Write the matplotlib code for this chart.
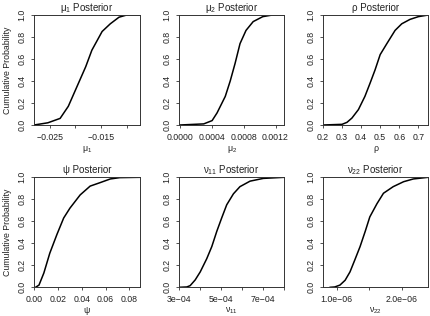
import matplotlib
matplotlib.use("Agg")
import matplotlib.pyplot as plt

plt.rcParams["font.family"] = ["Liberation Sans", "DejaVu Sans"]
plt.rcParams["mathtext.fontset"] = "custom"
plt.rcParams["mathtext.rm"] = "Liberation Sans"
plt.rcParams["mathtext.it"] = "Liberation Sans"
plt.rcParams["axes.unicode_minus"] = True

mu1_x = [-0.0281, -0.0254, -0.0230, -0.0214, -0.0197, -0.0180, -0.0168,
         -0.0148, -0.0132, -0.0115, -0.0100, -0.0075]
mu1_p = [0.0, 0.02, 0.06, 0.17, 0.35, 0.53, 0.68, 0.85, 0.92, 0.98, 1.0, 1.0]

mu2_x = [0.0, 0.00030, 0.000405, 0.000467, 0.00057, 0.000632, 0.000693,
         0.000755, 0.00083, 0.00092, 0.00104, 0.00116, 0.00131]
mu2_p = [0.0, 0.01, 0.04, 0.11, 0.26, 0.40, 0.56, 0.74, 0.86, 0.94, 0.985,
         1.0, 1.0]

rho_x = [0.20, 0.30, 0.326, 0.352, 0.386, 0.42, 0.447, 0.473, 0.50, 0.535,
         0.578, 0.613, 0.656, 0.70, 0.752]
rho_p = [0.0, 0.006, 0.024, 0.063, 0.14, 0.26, 0.38, 0.50, 0.64, 0.74, 0.86,
         0.92, 0.96, 0.985, 1.0]

psi_x = [0.001, 0.0039, 0.008, 0.013, 0.019, 0.0247, 0.030, 0.0386, 0.047,
         0.055, 0.064, 0.072, 0.089]
psi_p = [0.0, 0.02, 0.13, 0.31, 0.48, 0.63, 0.72, 0.84, 0.92, 0.95, 0.985,
         0.997, 1.0]

v11_x = [3.0e-4, 3.36e-4, 3.52e-4, 3.76e-4, 4.0e-4, 4.31e-4, 4.55e-4, 4.79e-4,
         5.02e-4, 5.26e-4, 5.58e-4, 5.89e-4, 6.37e-4, 7.0e-4, 8.0e-4]
v11_p = [0.0, 0.003, 0.015, 0.067, 0.14, 0.26, 0.37, 0.51, 0.63, 0.75, 0.85,
         0.915, 0.965, 0.99, 1.0]

v22_x = [0.90e-6, 0.97e-6, 1.05e-6, 1.13e-6, 1.205e-6, 1.28e-6, 1.36e-6,
         1.44e-6, 1.51e-6, 1.62e-6, 1.72e-6, 1.87e-6, 2.03e-6, 2.18e-6, 2.41e-6]
v22_p = [0.0, 0.003, 0.02, 0.064, 0.14, 0.25, 0.37, 0.51, 0.64, 0.76, 0.855,
         0.915, 0.96, 0.985, 1.0]

panels = [
    dict(x=mu1_x, p=mu1_p, title=r"μ$_1$ Posterior", xlabel=r"μ$_1$",
         xlim=(-0.0281, -0.0074),
         ticks=[-0.025, -0.020, -0.015, -0.010],
         labels=["\u22120.025", "", "\u22120.015", ""]),
    dict(x=mu2_x, p=mu2_p, title=r"μ$_2$ Posterior", xlabel=r"μ$_2$",
         xlim=(-0.00001, 0.00131),
         ticks=[0.0, 0.0004, 0.0008, 0.0012],
         labels=["0.0000", "0.0004", "0.0008", "0.0012"]),
    dict(x=rho_x, p=rho_p, title="ρ Posterior", xlabel="ρ",
         xlim=(0.199, 0.752),
         ticks=[0.2, 0.3, 0.4, 0.5, 0.6, 0.7],
         labels=["0.2", "0.3", "0.4", "0.5", "0.6", "0.7"]),
    dict(x=psi_x, p=psi_p, title="ψ Posterior", xlabel="ψ",
         xlim=(-0.0003, 0.089),
         ticks=[0.0, 0.02, 0.04, 0.06, 0.08],
         labels=["0.00", "0.02", "0.04", "0.06", "0.08"]),
    dict(x=v11_x, p=v11_p, title=r"ν$_{11}$ Posterior", xlabel=r"ν$_{11}$",
         xlim=(2.99e-4, 8.0e-4),
         ticks=[3e-4, 4e-4, 5e-4, 6e-4, 7e-4, 8e-4],
         labels=["3e\u221204", "", "5e\u221204", "", "7e\u221204", ""]),
    dict(x=v22_x, p=v22_p, title=r"ν$_{22}$ Posterior", xlabel=r"ν$_{22}$",
         xlim=(0.785e-6, 2.41e-6),
         ticks=[1.0e-6, 1.5e-6, 2.0e-6],
         labels=["1.0e\u221206", "", "2.0e\u221206"]),
]

W, H = 430, 316
lefts = [34, 179, 322.7]
rights = [140, 284.3, 428.3]
tops = [15, 177.3]
bottoms = [125, 287.3]

fig = plt.figure(figsize=(W / 100, H / 100), dpi=100)
fig.patch.set_facecolor("white")

FRAME = "#333333"
TXT = "#222222"

for i, pan in enumerate(panels):
    r, c = divmod(i, 3)
    ax = fig.add_axes([lefts[c] / W, 1 - bottoms[r] / H,
                       (rights[c] - lefts[c]) / W, (bottoms[r] - tops[r]) / H])
    ax.plot(pan["x"], pan["p"], color="black", lw=1.1, solid_joinstyle="round")
    ax.set_xlim(*pan["xlim"])
    ax.set_ylim(0, 1)
    ax.set_xticks(pan["ticks"])
    ax.set_xticklabels(pan["labels"])
    ax.set_yticks([0.0, 0.2, 0.4, 0.6, 0.8, 1.0])
    ax.set_yticklabels(["0.0", "0.2", "0.4", "0.6", "0.8", "1.0"],
                       rotation=90, va="center")
    ax.tick_params(direction="out", length=2.4, width=0.6, color=FRAME,
                   labelsize=6.3, labelcolor=TXT)
    ax.tick_params(axis="x", pad=3.5)
    ax.tick_params(axis="y", pad=3.0)
    for s in ax.spines.values():
        s.set_color(FRAME)
        s.set_linewidth(0.7)
    ax.set_title(pan["title"], fontsize=7, color=TXT, pad=3)
    ax.set_xlabel(pan["xlabel"], fontsize=6.3, color=TXT, labelpad=1.0)
    if c == 0:
        ax.set_ylabel("Cumulative Probability", fontsize=6.3, color=TXT,
                      labelpad=4)

fig.savefig("out.png", dpi=100)
